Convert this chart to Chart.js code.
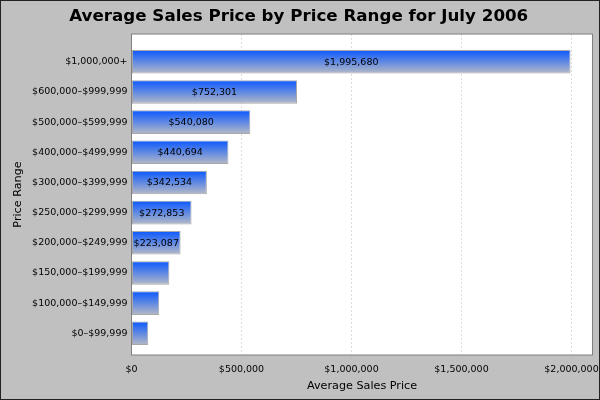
<!DOCTYPE html>
<html>
<head>
<meta charset="utf-8">
<script src="https://cdn.jsdelivr.net/npm/chart.js@4"></script>
<style>
  html, body { margin: 0; padding: 0; background: #c0c0c0; }
  canvas { display: block; }
</style>
</head>
<body>
<canvas id="c" width="600" height="400"></canvas>
<script>
const chartTitle = 'Average Sales Price by Price Range for July 2006';
const categories = [
  '$1,000,000+',
  '$600,000–$999,999',
  '$500,000–$599,999',
  '$400,000–$499,999',
  '$300,000–$399,999',
  '$250,000–$299,999',
  '$200,000–$249,999',
  '$150,000–$199,999',
  '$100,000–$149,999',
  '$0–$99,999'
];
const avgPrice = [1995680, 752301, 540080, 440694, 342534, 272853, 223087, 172000, 126000, 76000];
const xTickValues = [0, 500000, 1000000, 1500000, 2000000];
const xAxisMax = 2095464;

const fmt = v => '$' + Number(v).toLocaleString('en-US');
const FONT = 'DejaVu Sans';

const backgroundPlugin = {
  id: 'bgFrame',
  beforeDraw(chart) {
    const {ctx, chartArea: ca, width, height} = chart;
    ctx.save();
    ctx.fillStyle = '#c0c0c0';
    ctx.fillRect(0, 0, width, height);
    ctx.fillStyle = '#ffffff';
    ctx.fillRect(ca.left, ca.top, ca.right - ca.left, ca.bottom - ca.top);
    ctx.restore();
  },
  afterDraw(chart) {
    const {ctx, chartArea: ca, width, height} = chart;
    ctx.save();
    ctx.strokeStyle = '#808080';
    ctx.lineWidth = 1;
    ctx.strokeRect(ca.left, ca.top, ca.right - ca.left, ca.bottom - ca.top);
    ctx.strokeStyle = '#222222';
    ctx.strokeRect(0.5, 0.5, width - 1, height - 1);
    ctx.restore();
  }
};

const barLabelPlugin = {
  id: 'barLabels',
  afterDatasetsDraw(chart) {
    const {ctx} = chart;
    const meta = chart.getDatasetMeta(0);
    ctx.save();
    ctx.font = '9.5px "' + FONT + '"';
    ctx.fillStyle = '#000000';
    ctx.textAlign = 'center';
    ctx.textBaseline = 'middle';
    meta.data.forEach((bar, i) => {
      const text = fmt(avgPrice[i]);
      const w = Math.abs(bar.x - bar.base);
      if (ctx.measureText(text).width <= w - 1) {
        ctx.fillText(text, (bar.x + bar.base) / 2, bar.y + 0.5);
      }
    });
    ctx.restore();
  }
};

function barGradient(context) {
  const chart = context.chart;
  if (!chart.chartArea || !chart.scales.y) return '#1a5cff';
  const yScale = chart.scales.y;
  const yc = yScale.getPixelForValue(context.dataIndex);
  const pitch = Math.abs(yScale.getPixelForValue(1) - yScale.getPixelForValue(0));
  const h = pitch * 0.78;
  const g = chart.ctx.createLinearGradient(0, yc - h / 2, 0, yc + h / 2);
  g.addColorStop(0, '#0a58ff');
  g.addColorStop(1, '#b6bac6');
  return g;
}

new Chart(document.getElementById('c'), {
  type: 'bar',
  data: {
    datasets: [{
      data: avgPrice.map((v, i) => ({x: v, y: i})),
      backgroundColor: barGradient,
      borderColor: '#a8a8a8',
      borderWidth: 1,
      borderSkipped: false,
      categoryPercentage: 1,
      barPercentage: 0.78
    }]
  },
  options: {
    indexAxis: 'y',
    responsive: false,
    animation: false,
    devicePixelRatio: 1,
    layout: { padding: { left: 5, right: 7.5, top: 0, bottom: 0 } },
    plugins: {
      legend: { display: false },
      tooltip: { enabled: false },
      title: {
        display: true,
        text: chartTitle,
        color: '#000000',
        font: { family: FONT, size: 16.7, weight: 'bold' },
        padding: { top: 7, bottom: 7 }
      }
    },
    scales: {
      x: {
        type: 'linear',
        position: 'bottom',
        min: 0,
        max: xAxisMax,
        afterFit: s => { s.height = 45; s.paddingLeft = 0; s.paddingRight = 0; },
        afterBuildTicks: s => { s.ticks = xTickValues.map(v => ({value: v})); },
        ticks: {
          includeBounds: false,
          color: '#000000',
          font: { family: FONT, size: 9.5 },
          padding: 9,
          maxRotation: 0,
          callback: v => fmt(v)
        },
        grid: { color: '#dcdcdc', lineWidth: 1, drawTicks: false },
        border: { display: false, dash: [2, 2] },
        title: {
          display: true,
          text: 'Average Sales Price',
          color: '#000000',
          font: { family: FONT, size: 11.2 },
          padding: { top: 0, bottom: 7.5 }
        }
      },
      y: {
        type: 'linear',
        offset: false,
        min: -0.92,
        max: 9.72,
        reverse: true,
        afterFit: s => { s.width = 126.5; s.paddingTop = 0; s.paddingBottom = 0; },
        afterBuildTicks: s => { s.ticks = categories.map((c, i) => ({value: i})); },
        ticks: {
          includeBounds: false,
          color: '#000000',
          font: { family: FONT, size: 9.5 },
          padding: 4,
          callback: v => categories[v]
        },
        grid: { display: false, drawTicks: false, offset: false },
        border: { display: false },
        title: {
          display: true,
          text: 'Price Range',
          color: '#000000',
          font: { family: FONT, size: 11.2 },
          padding: { top: 6.5, bottom: 0 }
        }
      }
    }
  },
  plugins: [backgroundPlugin, barLabelPlugin]
});
</script>
</body>
</html>
